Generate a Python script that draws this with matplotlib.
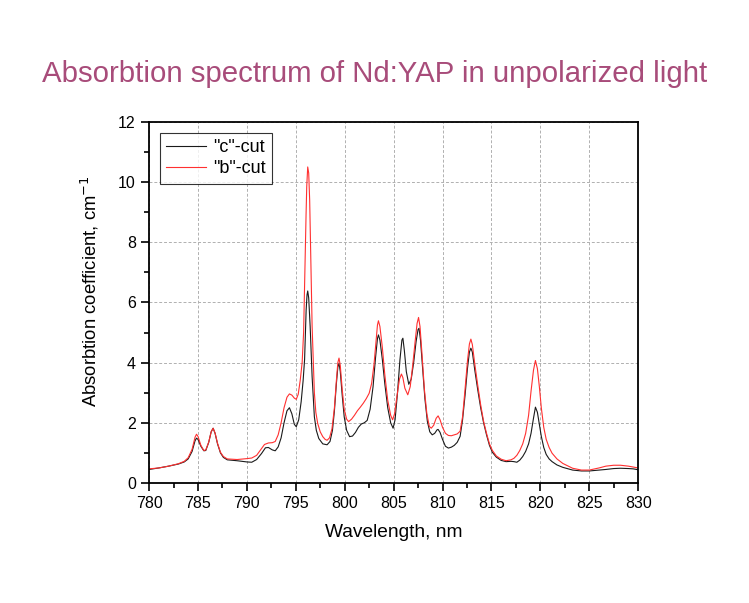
import matplotlib
matplotlib.use("Agg")
import matplotlib.pyplot as plt
from matplotlib.ticker import MultipleLocator

# "c"-cut (black)
c_wl = [780.0, 781.0, 782.0, 783.0, 783.6, 784.0, 784.4, 784.7, 784.85, 785.0, 785.3, 785.6, 785.8,
        786.1, 786.35, 786.55, 786.75, 787.0, 787.3, 787.6, 788.0, 789.0, 790.0, 790.5, 791.0, 791.5,
        791.9, 792.2, 792.6, 792.9, 793.2, 793.5, 793.8, 794.1, 794.35, 794.6, 794.85, 795.05, 795.3,
        795.55, 795.75, 795.9, 796.06, 796.15, 796.22, 796.32, 796.47, 796.67, 796.9, 797.1, 797.35,
        797.76, 798.2, 798.5, 798.75, 798.95, 799.15, 799.3, 799.42, 799.55, 799.75, 799.95, 800.2,
        800.5, 800.8, 801.1, 801.4, 801.7, 802.0, 802.3, 802.6, 802.9, 803.15, 803.35, 803.45, 803.6,
        803.85, 804.1, 804.4, 804.7, 804.95, 805.15, 805.4, 805.65, 805.85, 805.95, 806.1, 806.3,
        806.55, 806.8, 807.05, 807.3, 807.5, 807.6, 807.75, 807.95, 808.2, 808.45, 808.7, 808.95,
        809.2, 809.45, 809.55, 809.75, 810.0, 810.3, 810.6, 810.9, 811.2, 811.5, 811.8, 812.05,
        812.3, 812.55, 812.75, 812.9, 813.05, 813.3, 813.6, 813.9, 814.2, 814.5, 814.8, 815.1, 815.5,
        816.0, 816.5, 817.0, 817.3, 817.6, 817.9, 818.2, 818.5, 818.8, 819.05, 819.3, 819.5, 819.7,
        819.9, 820.1, 820.35, 820.6, 820.9, 821.2, 821.7, 822.3, 823.3, 824.2, 825.0, 826.0, 826.7,
        827.5, 828.2, 829.0, 829.5, 830.0]
c_abs = [0.45, 0.50, 0.56, 0.63, 0.70, 0.80, 1.05, 1.40, 1.49, 1.45, 1.22, 1.07, 1.08,
         1.35, 1.70, 1.82, 1.65, 1.30, 1.00, 0.85, 0.77, 0.74, 0.70, 0.69, 0.78, 0.98,
         1.17, 1.18, 1.10, 1.07, 1.20, 1.50, 2.00, 2.40, 2.50, 2.30, 1.95, 1.87, 2.10,
         2.70, 3.40, 4.10, 5.75, 6.25, 6.38, 6.15, 5.20, 3.53, 2.20, 1.75, 1.48,
         1.30, 1.27, 1.38, 1.75, 2.40, 3.30, 3.85, 3.98, 3.70, 2.90, 2.20, 1.75,
         1.54, 1.56, 1.68, 1.85, 1.96, 2.00, 2.08, 2.45, 3.20, 4.15, 4.80, 4.92, 4.75,
         4.10, 3.30, 2.50, 2.00, 1.82, 2.10, 3.00, 4.10, 4.75, 4.81, 4.40, 3.70,
         3.28, 3.45, 4.00, 4.70, 5.10, 5.14, 4.75, 3.90, 2.80, 2.05, 1.70, 1.60,
         1.65, 1.77, 1.78, 1.68, 1.45, 1.22, 1.16, 1.19, 1.25, 1.35, 1.55, 2.10,
         2.90, 3.80, 4.35, 4.48, 4.35, 3.75, 3.10, 2.50, 2.00, 1.60, 1.25, 1.02, 0.86,
         0.75, 0.71, 0.72, 0.71, 0.69, 0.76, 0.88, 1.05, 1.30, 1.65, 2.15, 2.52, 2.35,
         1.95, 1.55, 1.18, 0.95, 0.80, 0.71, 0.60, 0.52, 0.43, 0.40, 0.40, 0.43, 0.45,
         0.48, 0.49, 0.48, 0.47, 0.44]

# "b"-cut (red)
b_wl = [780.0, 781.0, 782.0, 783.0, 783.6, 784.0, 784.4, 784.7, 784.85, 785.0, 785.3, 785.6, 785.8,
        786.1, 786.35, 786.55, 786.75, 787.0, 787.3, 787.6, 788.0, 789.0, 790.0, 790.5, 791.0, 791.4,
        791.8, 792.2, 792.6, 792.9, 793.2, 793.5, 793.8, 794.1, 794.35, 794.6, 794.85, 795.05, 795.25,
        795.45, 795.65, 795.8, 795.95, 796.05, 796.12, 796.22, 796.32, 796.42, 796.55, 796.67, 796.8,
        796.9, 797.05, 797.24, 797.5, 797.76, 798.0, 798.2, 798.45, 798.7, 798.95, 799.15, 799.3,
        799.42, 799.55, 799.75, 799.95, 800.2, 800.4, 800.7, 801.0, 801.3, 801.6, 801.9, 802.2,
        802.5, 802.75, 803.0, 803.2, 803.35, 803.45, 803.6, 803.85, 804.1, 804.4, 804.7, 804.9,
        805.1, 805.35, 805.6, 805.8, 805.95, 806.15, 806.45, 806.7, 806.95, 807.2, 807.4, 807.55,
        807.7, 807.9, 808.15, 808.4, 808.65, 808.85, 809.1, 809.35, 809.55, 809.75, 810.0, 810.3,
        810.6, 810.9, 811.2, 811.5, 811.8, 812.05, 812.3, 812.55, 812.75, 812.9, 813.05, 813.3,
        813.6, 813.9, 814.2, 814.5, 814.8, 815.1, 815.5, 816.0, 816.5, 817.0, 817.3, 817.6, 817.9,
        818.2, 818.5, 818.8, 819.05, 819.3, 819.5, 819.7, 819.9, 820.1, 820.35, 820.6, 820.9,
        821.2, 821.7, 822.3, 823.3, 824.2, 825.0, 826.0, 826.7, 827.5, 828.2, 829.0, 829.5, 830.0]
b_abs = [0.47, 0.50, 0.56, 0.64, 0.72, 0.84, 1.12, 1.52, 1.62, 1.55, 1.25, 1.08, 1.10,
         1.36, 1.70, 1.82, 1.66, 1.32, 1.02, 0.88, 0.80, 0.78, 0.81, 0.83, 0.92, 1.10,
         1.28, 1.33, 1.34, 1.38, 1.60, 2.00, 2.50, 2.85, 2.96, 2.92, 2.82, 2.78, 2.95,
         3.40, 4.00, 5.00, 7.40, 8.90, 9.85, 10.50, 10.30, 9.40, 7.20, 5.20, 3.90,
         3.00, 2.35, 1.98, 1.70, 1.54, 1.45, 1.42, 1.50, 1.80, 2.50, 3.40, 4.00,
         4.15, 3.90, 3.10, 2.45, 2.12, 2.04, 2.12, 2.25, 2.40, 2.52, 2.65, 2.80,
         2.98, 3.30, 3.95, 4.70, 5.25, 5.39, 5.20, 4.50, 3.60, 2.75, 2.25, 2.10,
         2.30, 2.90, 3.45, 3.62, 3.50, 3.15, 2.93, 3.20, 3.90, 4.70, 5.30, 5.50,
         5.20, 4.30, 3.10, 2.30, 1.88, 1.82, 1.92, 2.15, 2.23, 2.10, 1.85, 1.65,
         1.58, 1.57, 1.60, 1.63, 1.72, 2.20, 3.10, 4.05, 4.62, 4.78, 4.60, 3.95,
         3.25, 2.60, 2.05, 1.65, 1.30, 1.08, 0.90, 0.79, 0.74, 0.77, 0.82, 0.92, 1.08,
         1.30, 1.65, 2.25, 3.05, 3.75, 4.07, 3.80, 3.20, 2.50, 1.85, 1.45, 1.18,
         0.99, 0.80, 0.65, 0.49, 0.43, 0.43, 0.50, 0.56, 0.59, 0.59, 0.56, 0.53, 0.50]

plt.rcParams['font.family'] = ['Liberation Sans', 'DejaVu Sans']

fig = plt.figure(figsize=(7.49, 6.03), dpi=100)
ax = fig.add_axes([0.199, 0.199, 0.653, 0.599])

ax.plot(c_wl, c_abs, color='#1a1a1a', lw=0.8, label='"c"-cut', solid_joinstyle='round')
ax.plot(b_wl, b_abs, color='#ff3030', lw=0.8, label='"b"-cut', solid_joinstyle='round')

ax.set_xlim(780, 830)
ax.set_ylim(0, 12)
ax.xaxis.set_major_locator(MultipleLocator(5))
ax.xaxis.set_minor_locator(MultipleLocator(2.5))
ax.yaxis.set_major_locator(MultipleLocator(2))
ax.yaxis.set_minor_locator(MultipleLocator(1))
ax.tick_params(which='major', direction='out', length=6, width=1.2, labelsize=11.5)
ax.tick_params(which='minor', direction='out', length=3.5, width=1.2)
for s in ax.spines.values():
    s.set_linewidth(1.3)
ax.grid(True, which='major', color='#b0b0b0', linestyle=(0, (3, 2)), linewidth=0.7)
ax.set_axisbelow(True)

ax.set_xlabel('Wavelength, nm', fontsize=13.8, labelpad=9)
ax.set_ylabel('Absorbtion coefficient, cm$^{-1}$', fontsize=13.3)
ax.yaxis.set_label_coords(-0.099, 0.53)

leg = ax.legend(loc='upper left', fontsize=13, frameon=True, fancybox=False,
                edgecolor='black', borderaxespad=0.6, handlelength=2.2,
                borderpad=0.35, labelspacing=0.25, handletextpad=0.4)
leg.get_frame().set_linewidth(0.8)

fig.text(0.5, 0.877, 'Absorbtion spectrum of Nd:YAP in unpolarized light',
         ha='center', va='center', fontsize=21.2, color='#a84c7a')

fig.savefig('out.png', dpi=100)
